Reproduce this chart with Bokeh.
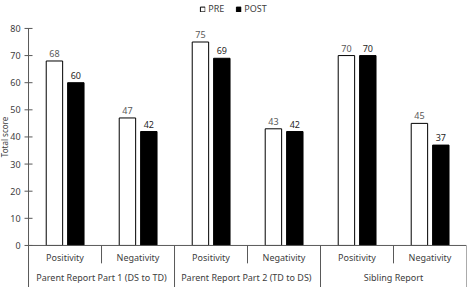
from bokeh.plotting import figure
from bokeh.models import Range1d, ColumnDataSource, Legend, LegendItem
from bokeh.embed import file_html
from bokeh.resources import INLINE
from bokeh.core.properties import value
import math

groups = ["Parent Report Part 1 (DS to TD)", "Parent Report Part 2  (TD to DS)", "Sibling Report"]
subcats = ["Positivity", "Negativity"]
pre = [68, 47, 75, 43, 70, 45]
post = [60, 42, 69, 42, 70, 37]
y_ticks = [0, 10, 20, 30, 40, 50, 60, 70, 80]
y_title = "Total score"

FONT = "Noto Sans"
TXT = "#404040"
AXC = "#595959"

n = len(pre)
cats = [s for g in groups for s in subcats]
xc = [i + 0.5 for i in range(n)]
x_start = -0.384   # room on the left for the value axis

src = ColumnDataSource(dict(
    x_pre=[x - 0.145 for x in xc], x_post=[x + 0.148 for x in xc],
    pre=pre, post=post,
    pre_lbl=[str(v) for v in pre], post_lbl=[str(v) for v in post],
))

p = figure(width=468, height=287, output_backend="svg", toolbar_location=None,
           x_range=Range1d(x_start, n), y_range=Range1d(-15.5, 90.3),
           x_axis_type=None, y_axis_type=None, min_border_left=0, min_border_right=2,
           min_border_top=0, min_border_bottom=0)
p.outline_line_color = None
p.grid.visible = False
p.background_fill_color = "white"

r_pre = p.vbar(x="x_pre", top="pre", width=0.225, bottom=0, source=src,
               fill_color="white", line_color="black", line_width=1)
r_post = p.vbar(x="x_post", top="post", width=0.225, bottom=0, source=src,
                fill_color="black", line_color="black", line_width=1)

p.text(x="x_pre", y="pre", text="pre_lbl", source=src, text_align="center",
       text_baseline="bottom", y_offset=-4, text_font=value(FONT),
       text_font_size="9px", text_color="#595959")
p.text(x="x_post", y="post", text="post_lbl", source=src, text_align="center",
       text_baseline="bottom", y_offset=-4, text_font=value(FONT),
       text_font_size="9px", text_color="#262626")

# value axis: line, ticks, labels, title
top = max(y_ticks)
p.segment(x0=[0], y0=[0], x1=[0], y1=[top], line_color=AXC, line_width=1)
p.scatter(x=[0] * len(y_ticks), y=y_ticks, marker="dash", size=8,
          line_color=AXC, line_width=1)
p.text(x=[0] * len(y_ticks), y=y_ticks, text=[str(t) for t in y_ticks],
       text_align="right", text_baseline="middle", x_offset=-8,
       text_font=value(FONT), text_font_size="9px", text_color=TXT)
p.text(x=[x_start], y=[top / 2], text=[y_title], angle=math.pi / 2,
       text_align="center", text_baseline="middle", x_offset=4,
       text_font=value(FONT), text_font_size="8px", text_color=TXT)

# category axis baseline
p.segment(x0=[0], y0=[0], x1=[n], y1=[0], line_color=AXC, line_width=1)

# category separators
sub_x = [i for i in range(n + 1) if i % 2 == 1]
grp_x = [i for i in range(n + 1) if i % 2 == 0]
p.segment(x0=sub_x, y0=[0] * len(sub_x), x1=sub_x, y1=[-6.6] * len(sub_x),
          line_color=AXC, line_width=1)
p.segment(x0=grp_x, y0=[0] * len(grp_x), x1=grp_x, y1=[-15.5] * len(grp_x),
          line_color=AXC, line_width=1)

# category labels
p.text(x=xc, y=[-4.4] * n, text=cats, text_align="center", text_baseline="middle",
       text_font=value(FONT), text_font_size="9px", text_color=TXT)
gx = [2 * i + 1 for i in range(len(groups))]
p.text(x=gx, y=[-11.8] * len(groups), text=groups, text_align="center",
       text_baseline="middle", text_font=value(FONT), text_font_size="9px",
       text_color=TXT)

legend = Legend(items=[LegendItem(label="PRE", renderers=[r_pre]),
                       LegendItem(label="POST", renderers=[r_post])],
                location="top_center", orientation="horizontal",
                label_text_font=FONT, label_text_font_size="9px",
                label_text_color=TXT, glyph_width=6, glyph_height=6,
                label_standoff=3, spacing=7, padding=0, margin=2,
                border_line_color=None, background_fill_alpha=0,
                label_height=10)
p.add_layout(legend)

open("out.html", "w").write(file_html(p, INLINE))
